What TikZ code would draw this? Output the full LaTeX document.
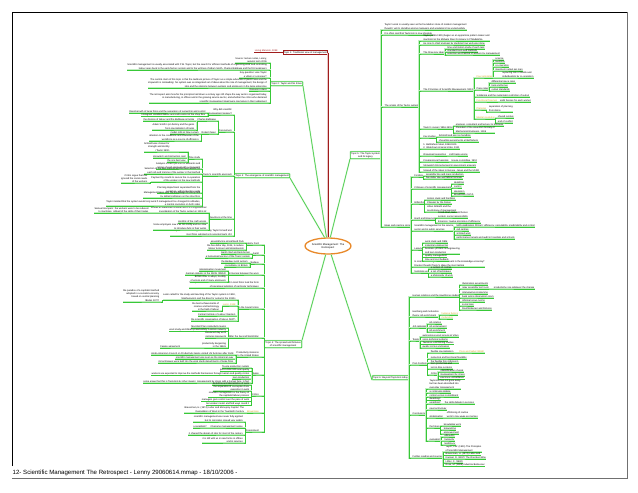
\documentclass[tikz,border=0pt]{standalone}
\usepackage{fontspec}
\setmainfont{Liberation Sans}
\usepackage{tikz}
\usetikzlibrary{shapes.geometric}
\definecolor{mapgreen}{HTML}{38C838}
\definecolor{mapred}{HTML}{A01C1C}
\definecolor{maporange}{HTML}{E8892A}
\definecolor{mapamber}{HTML}{D4A017}
\definecolor{framegrey}{HTML}{707070}
\newcommand\mapfont{\fontsize{2.4}{3.1}\selectfont}

\begin{document}
\begin{tikzpicture}[x=1pt,y=-1pt,
  tp/.style={font=\mapfont,inner sep=0.3pt},
  tr/.style={tp,anchor=south west,align=left},
  tl/.style={tp,anchor=south east,align=right},
  br/.style={draw=mapgreen,line width=0.5pt,preaction={draw=mapgreen!30,line width=1.4pt}},
  rl/.style={draw=mapred,line width=0.6pt,preaction={draw=mapred!25,line width=1.4pt}},
  topic/.style={tp,draw=mapgreen,line width=0.6pt,rounded corners=0.5pt,inner sep=0.9pt,align=center,fill=white,preaction={draw=mapgreen!30,line width=1.4pt}},
  hubnode/.style={ellipse,draw=maporange,line width=1.3pt,minimum width=42pt,minimum height=16pt,inner sep=0pt,align=center,font=\fontsize{2.6}{3.2}\selectfont}]
  \useasboundingbox (0,0) rectangle (638,493);
  \draw[black,line width=0.8pt] (12,466) -- (12,12) -- (627,12);
  \draw[framegrey,line width=0.8pt] (627,12) -- (627,478) -- (12,478);
  \node[anchor=base west,inner sep=0pt,font=\fontsize{6.1}{7}\selectfont] (foot) at (12.5,474) {12- Scientific Management The Retrospect - Lenny 29060614.mmap - 18/10/2006 -};

  % centre and main topics
  \node[hubnode] (hub) at (328,246) {Scientific Management: The\\Retrospect};
  \node[tp,draw=mapred,line width=0.6pt,inner sep=0.8pt,anchor=east] (t1) at (328,52.5) {Topic 1: Traditional view of management};
  \node[tl,text=mapred] (t1-1) at (278,52.5) {Living Marxism, 1998};
  \draw[rl] (t1.west) -- (t1-1.south east) -- (t1-1.south west);
  \draw[rl] (t1.east) -- (hub.north);
  \node[topic,anchor=south east] (t2) at (303,86) {Topic 2: Taylor and his times};
  \node[topic,anchor=south east] (t3) at (290,178) {Topic 3: The emergence of scientific management};
  \node[topic,anchor=south east] (t4) at (302,348) {Topic 4: The spread and fortunes\\of scientific management};
  \node[topic,anchor=south west] (t5) at (350,159) {Topic 5: The Taylor system\\and its legacy};
  \node[topic,anchor=south west] (t6) at (372,380) {Topic 6: Beyond Taylorism today};
  \draw[br] (t2.south east) -- (hub.100);
  \draw[br] (t3.south east) -- (hub.112);
  \draw[br] (hub.255) -- (t4.north east);
  \draw[br] (hub.75) -- (t5.south west);
  \draw[br] (hub.290) -- (t6.south west);

  % topic 5
  \foreach \dy/\lbl [count=\i] in {-129/{Taylor's work is usually seen as the foundation stone of modern management\\thought, yet its standing among managers and academics has varied widely},
      -124/{It is often said that Taylorism is now obsolete}, -52/{The origins of the Taylor system}, 68/{Ideas and practice since}}{
    \node[tr] (t5-\i) at ([shift={(3,\dy)}]t5.south east) {\lbl};
    \draw[br] (t5.south east) |- (t5-\i.south west) -- (t5-\i.south east);}
  \foreach \dy/\lbl [count=\i] in {-66/{Taylor (1856-1915) began as an apprentice pattern maker and\\machinist at the Midvale Steel Company in Philadelphia},
      -62/{He rose to chief engineer by studying how work was done}, -53/{The three key ideas},
      -16/{The Principles of Scientific Management (1911)}, 22/{Taylor's career (1856-1915)}, 31/{Key studies},
      42/{1. Bethlehem Steel, 1898-1901\\2. Watertown Arsenal strike, 1911}, 49/{Organised opposition}, 55/{Congressional hearings},
      60/{Stopwatch timing banned in government arsenals}, 65/{Spread of the ideas to Europe, Japan and the USSR}}{
    \node[tr] (t5-3-\i) at ([shift={(4,\dy)}]t5-3.south east) {\lbl};
    \draw[br] (t5-3.south east) |- (t5-3-\i.south west) -- (t5-3-\i.south east);}
  \foreach \dy/\lbl [count=\i] in {-5/{time and motion study of each task}, -2/{standard tools and methods}, 1/{selection and training of workers by management}}{
    \node[tr] (t5-3-3-\i) at ([shift={(2,\dy)}]t5-3-3.south east) {\lbl};
    \draw[br] (t5-3-3.south east) |- (t5-3-3-\i.south west) -- (t5-3-3-\i.south east);}
  \foreach \dy/\lbl [count=\i] in {-13/{\color{mapamber}Four principles}, -1/{Piece rates}, 6/{Soldiering and the systematic restriction of output},
      11/{\color{mapamber}Functional foremen}, 19/{\color{mapamber}Planning}, 28/{\color{mapamber}Mental revolution}}{
    \node[tr] (t5-3-4-\i) at ([shift={(2,\dy)}]t5-3-4.south east) {\lbl};
    \draw[br] (t5-3-4.south east) |- (t5-3-4-\i.south west) -- (t5-3-4-\i.south east);}
  \foreach \dy/\lbl [count=\i] in {-18/{science}, -15/{harmony}, -11/{co-operation}, -7/{maximum output per man}}{
    \node[tr] (t5-3-4-1-\i) at ([shift={(2,\dy)}]t5-3-4-1.south east) {\lbl};
    \draw[br] (t5-3-4-1.south east) |- (t5-3-4-1-\i.south west) -- (t5-3-4-1-\i.south east);}
  \node[tr] (t5-3-4-1-5) at ([shift={(9,0)}]t5-3-4-1.south east) {replacing rule of thumb and\\individualism by co-operation};
  \draw[br] (t5-3-4-1.south east) -- (t5-3-4-1-5.south west) -- (t5-3-4-1-5.south east);
  \foreach \p/\dy/\lbl in {2/-7/{differential piece rates}, 2/-3/{task and bonus}, 2/1/{output standards}, 4/0/{eight bosses for each worker},
      5/2/{separation of planning\\from doing}, 6/-1/{shared surplus}, 6/4/{end of conflict}}{
    \node[tr] (n) at ([shift={(2,\dy)}]t5-3-4-\p.south east) {\lbl};
    \draw[br] (t5-3-4-\p.south east) |- (n.south west) -- (n.south east);}
  \foreach \p/\dy/\lbl in {5/-3/{engineer, consultant and lecturer to business}, 5/4/{President of the American Society of\\Mechanical Engineers, 1906},
      6/-1/{Schmidt and pig iron handling}, 6/4/{shovelling experiments at Bethlehem}, 8/0/{craft trade unions}, 9/0/{House committee, 1912}}{
    \node[tr] (n) at ([shift={(2,\dy)}]t5-3-\p.south east) {\lbl};
    \draw[br] (t5-3-\p.south east) |- (n.south west) -- (n.south east);}
  \foreach \dy/\lbl [count=\i] in {-50/{Fordism}, -38/{Critiques of scientific management}, -23/{Gilbreths}, -7/{Gantt and Emerson},
      4/{Scientific management in the service\\sector and in public services}, 23/{Legacy},
      40/{Is scientific management still relevant in the knowledge economy?\\Drucker thought Taylor's ideas the most lasting}, 46/{Summing up}}{
    \node[tr] (t5-4-\i) at ([shift={(3,\dy)}]t5-4.south east) {\lbl};
    \draw[br] (t5-4.south east) |- (t5-4-\i.south west) -- (t5-4-\i.south east);}
  \foreach \p/\dy/\lbl in {1/-1/{assembly line and mass production}, 1/2/{five dollar day and labour turnover},
      2/-5/{deskilling}, 2/-1/{control}, 2/4/{alienation}, 2/7/{Braverman (1974)},
      3/-4/{motion study and therbligs}, 3/0/{Cheaper by the Dozen}, 3/8/{Lillian Gilbreth and the\\psychology of management},
      4/-2/{Gantt chart, task and bonus\\system, social responsibility}, 4/3/{Emerson: twelve principles of efficiency},
      5/-4/{McDonaldization (Ritzer): efficiency, calculability, predictability and control}, 5/0/{call centres}, 5/4/{scripted work},
      5/8/{performance targets and audit in hospitals and schools},
      6/-7/{work study and O\&M}, 6/-3/{industrial engineering}, 6/4/{business process re-engineering\\and lean production},
      6/7.5/{quality management}, 6/11/{time and cost budgets},
      8/-4/{a system of control}, 8/0/{a set of techniques}, 8/4/{a philosophy of work}}{
    \node[tr] (n) at ([shift={(2,\dy)}]t5-4-\p.south east) {\lbl};
    \draw[br] (t5-4-\p.south east) |- (n.south west) -- (n.south east);}

  % topic 6
  \foreach \dy/\lbl [count=\i] in {-83/{Human relations and the Hawthorne studies}, -63/{Herzberg and motivation\\theory, job enrichment},
      -52/{Job redesign}, -39/{Teams}, -15/{Post-Fordism}, 35/{Conclusions}, 78/{Further reading and sources}}{
    \node[tr] (t6-\i) at ([shift={(3,\dy)}]t6.south east) {\lbl};
    \draw[br] (t6.south east) |- (t6-\i.south west) -- (t6-\i.south east);}
  \foreach \dy/\lbl [count=\i] in {-12/{illumination experiments}, -8/{relay assembly test room}, -3/{interviewing programme},
      1/{bank wiring observation room}, 5/{informal group norms}, 9/{social man}, 13/{Roethlisberger and Dickson}}{
    \node[tr] (t6-1-\i) at ([shift={(2,\dy)}]t6-1.south east) {\lbl};
    \draw[br] (t6-1.south east) |- (t6-1-\i.south west) -- (t6-1-\i.south east);}
  \node[tr] (t6-1-2-1) at ([shift={(4,0)}]t6-1-2.south east) {productivity rose whatever the change};
  \draw[br] (t6-1-2.south east) -- (t6-1-2-1.south west) -- (t6-1-2-1.south east);
  \foreach \p/\dy/\lbl in {2/-2/{\color{mapamber}hygiene factors}, 2/2/{\color{mapamber}motivators},
      3/-4/{job rotation}, 3/0/{job enlargement}, 3/4/{job enrichment},
      4/-4/{autonomous work groups at Volvo}, 4/0/{socio-technical systems}, 4/3.5/{Tavistock coal mining studies}, 4/7/{quality circles and kaizen},
      7/-6/{Taylor, F.W. (1911) The Principles\\of Scientific Management}, 7/-2.5/{Braverman, H. (1974) Labor and},
      7/1/{Kanigel, R. (1997) The One Best Way}, 7/5/{Littler, C. (1982)}, 7/8.5/{Rose, M. (1988) Industrial Behaviour}}{
    \node[tr] (n) at ([shift={(2,\dy)}]t6-\p.south east) {\lbl};
    \draw[br] (t6-\p.south east) |- (n.south west) -- (n.south east);}
  \foreach \dy/\lbl [count=\i] in {-12/{flexible specialisation}, -6/{numerical and functional flexibility}, -2/{the flexible firm (Atkinson)},
      4/{lean production and\\just-in-time systems}, 10/{Critics}}{
    \node[tr] (t6-5-\i) at ([shift={(3,\dy)}]t6-5.south east) {\lbl};
    \draw[br] (t6-5.south east) |- (t6-5-\i.south west) -- (t6-5-\i.south east);}
  \node[tr] (t6-5-1-1) at ([shift={(5,0)}]t6-5-1.south east) {\color{mapamber}Piore and Sabel (1984)};
  \draw[br] (t6-5-1.south east) -- (t6-5-1-1.south west) -- (t6-5-1-1.south east);
  \foreach \dy/\lbl [count=\i] in {-3/{intensification of work}, 1/{management by stress}, 4.5/{electronic surveillance}}{
    \node[tr] (t6-5-5-\i) at ([shift={(2,\dy)}]t6-5-5.south east) {\lbl};
    \draw[br] (t6-5-5.south east) |- (t6-5-5-\i.south west) -- (t6-5-5-\i.south east);}
  \foreach \dy/\lbl [count=\i] in {-26/{Taylorism has not gone away\\but has been absorbed into\\everyday management}, -22/{a continuing debate},
      -18/{control versus commitment}, -14.5/{deskilling?}, -11/{upskilling?}, -5/{new technology}, 3/{globalisation},
      13/{the future}, 26/{evaluation}}{
    \node[tr] (t6-6-\i) at ([shift={(3,\dy)}]t6-6.south east) {\lbl};
    \draw[br] (t6-6.south east) |- (t6-6-\i.south west) -- (t6-6-\i.south east);}
  \foreach \p/\dy/\lbl in {5/0/{the skills debate in services}, 7/0/{offshoring of routine\\work to low-wage economies},
      8/-2/{knowledge work}, 8/2/{teleworking}, 8/6/{empowerment}, 9/-4/{efficiency}, 9/0/{humanity}, 9/4/{legitimacy}}{
    \node[tr] (n) at ([shift={(3,\dy)}]t6-6-\p.south east) {\lbl};
    \draw[br] (t6-6-\p.south east) |- (n.south west) -- (n.south east);}

  % topic 2
  \foreach \dy/\lbl [count=\i] in {-23/{Source: lecture notes, Lenny,\\autumn term 2006},
      -16/{Scientific management is usually associated with F.W. Taylor, but the search for efficient methods of organising work and controlling\\labour goes back to the early factory system and to the writings of Adam Smith, Charles Babbage and the first engineers},
      -8/{Key question: was Taylor\\a villain or a pioneer?},
      2/{The central claim of this topic is that the textbook picture of Taylor as a simple advocate of piece rates and the\\stopwatch is misleading: his system was an integrated set of ideas about the role of management, the design of\\jobs and the relations between workers and employers in the large enterprise},
      5/{Discuss in class},
      17/{The retrospect asks how far the principles laid down a century ago still shape the way work is organised today,\\in manufacturing, in offices and in the growing service sector, and whether the critics who declared\\scientific management dead were premature in their judgement}}{
    \node[tl] (t2-\i) at ([shift={(-3,\dy)}]t2.south west) {\lbl};
    \draw[br] (t2.south west) |- (t2-\i.south east) -- (t2-\i.south west);}

  % topic 3
  \foreach \dy/\lbl [count=\i] in {-63/{Why did scientific\\management appear?}, -46/{Forerunners}, -2/{Taylor's scientific approach},
      41/{Reactions at the time}, 58/{The system was never applied in full by Taylor himself and\\most firms adopted only selected parts of it}}{
    \node[tl] (t3-\i) at ([shift={(-2,\dy)}]t3.south west) {\lbl};
    \draw[br] (t3.south west) |- (t3-\i.south east) -- (t3-\i.south west);}
  \foreach \p/\dy/\lbl in {1/-2/{Rapid growth of large firms and the separation of ownership and control},
      1/1.5/{Immigrant unskilled labour and craft control of the shop floor},
      4/-6/{Strikes at Watertown Arsenal led to a Congressional\\investigation of the Taylor system in 1911-12},
      4/4/{Hostility of the craft unions}, 4/11/{Some employers saw it as too costly and too slow\\to introduce fully in their works}}{
    \node[tl] (n) at ([shift={(-2,\dy)}]t3-\p.south west) {\lbl};
    \draw[br] (t3-\p.south west) |- (n.south east) -- (n.south west);}
  \node[tl] (t3-4-1) at ([shift={(-60,-6)}]t3-4.south west) {Samuel Gompers: the workers were to be reduced\\to machines, robbed of the skills of their trades};
  \draw[br] (t3-4.south west) |- (t3-4-1.south east) -- (t3-4-1.south west);
  \foreach \dy/\lbl [count=\i] in {-11/{Charles Babbage}, 2/{Robert Owen}}{
    \node[tl] (t3-2-\i) at ([shift={(-2,\dy)}]t3-2.south west) {\lbl};
    \draw[br] (t3-2.south west) |- (t3-2-\i.south east) -- (t3-2-\i.south west);}
  \foreach \p/\dy/\lbl in {1/0/{the division of labour and the Babbage principle}, 1/9/{Adam Smith's pin factory and the gains\\from specialisation of tasks},
      2/0/{model mills at New Lanark}, 2/7/{attention to the conditions and character of the\\workforce as a source of efficiency}}{
    \node[tl] (n) at ([shift={(-2,\dy)}]t3-2-\p.south west) {\lbl};
    \draw[br] (t3-2-\p.south west) |- (n.south east) -- (n.south west);}
  \foreach \dy/\lbl [count=\i] in {-17/{Time study}, -7/{Analysis of each job into its elements and\\timing of each element with a stopwatch},
      -2/{Selection of the best method and the best worker for\\each job and training of the worker in that method},
      6/{Payment by results to secure the co-operation\\of the workers in the new methods},
      17/{Planning department separated from the\\workshop, with instruction cards},
      22/{Management takes over the knowledge formerly held\\by skilled craftsmen on the shop floor},
      30/{Taylor insisted that the system would only work if management too changed its attitudes,\\a mental revolution on both sides}}{
    \node[tl] (t3-3-\i) at ([shift={(-2,\dy)}]t3-3.south west) {\lbl};
    \draw[br] (t3-3.south west) |- (t3-3-\i.south east) -- (t3-3-\i.south west);}
  \foreach \dy/\lbl [count=\i] in {-1/{stopwatch and instruction card}, 3/{the one best way}}{
    \node[tl] (t3-3-1-\i) at ([shift={(-2,\dy)}]t3-3-1.south west) {\lbl};
    \draw[br] (t3-3-1.south west) |- (t3-3-1-\i.south east) -- (t3-3-1-\i.south west);}
  \node[tl] (t3-3-1-3) at ([shift={(-18,-7)}]t3-3-1.south west) {Schmidt was chosen for\\strength and docility\\(Taylor 1911)};
  \draw[br] (t3-3-1.south west) |- (t3-3-1-3.south east) -- (t3-3-1-3.south west);
  \node[tl] (t3-3-4-1) at ([shift={(-3,1)}]t3-3-4.south west) {Critics argue that this\\ignored the social needs\\of the workers};
  \draw[br] (t3-3-4.south west) |- (t3-3-4-1.south east) -- (t3-3-4-1.south west);

  % topic 4
  \foreach \dy/\lbl [count=\i] in {-103/{Henry Ford}, -93/{Gantt}, -84/{Bedaux}, -73/{In Europe between the wars},
      -60/{The spread was slow and uneven and in most firms took the form\\of piecemeal adoption of particular techniques},
      -39/{In the Soviet Union}, -10/{After the Second World War}, 9/{Productivity missions\\to the United States},
      27/{Japan}, 48/{Critics}, 65/{\color{mapamber}Braverman}, 84/{Assessment}}{
    \node[tl] (t4-\i) at ([shift={(-5,\dy)}]t4.south west) {\lbl};
    \draw[br] (t4.south west) |- (t4-\i.south east) -- (t4-\i.south west);}
  \foreach \p/\dy/\lbl in {1/-2/{assembly line at Highland Park}, 1/5/{the five dollar day, 1914, to reduce\\labour turnover and absenteeism},
      2/-1/{Gantt chart and task bonus}, 2/3/{a humanised version of the Taylor system},
      3/-1/{the Bedaux point system}, 3/3/{consultancy in Britain},
      4/-4/{rationalisation movement}, 4/0/{German industry in the 1920s (REFA)}, 4/7/{Britain slow to adopt, hostility\\of unions and of many employers},
      7/-10/{Marshall Plan productivity teams}, 7/-6.5/{work study and O\&M spread widely in British industry},
      7/0/{measured day work\\replaces piecework}, 7/10/{productivity bargaining\\in the 1960s},
      8/-2/{Anglo-American Council on Productivity teams visited US factories after 1948},
      8/2/{scientific management was seen as the American way}, 8/6/{its techniques were built into the work study departments of large firms},
      9/-7/{Toyota production system}, 9/-3.5/{just-in-time and total quality},
      9/0.5/{workers are expected to improve the methods themselves through kaizen and quality circles}, 9/4/{lean production},
      9/8/{some argue that this is Taylorism by other means: management by stress with a human face, in fact},
      10/-11/{deskilling and degradation of work}, 10/-5/{the separation of conception from\\execution in work},
      10/1.5/{scientific management is the theory of\\the capitalist labour process}, 10/5.5/{managers gain control over the pace of work},
      10/9.5/{but workers resist and find ways round it},
      11/0/{Braverman, H. (1974) Labor and Monopoly Capital: The\\Degradation of Work in the Twentieth Century},
      12/-10/{scientific management was never fully applied\\but its principles spread very widely}, 12/-4/{it became management sense},
      12/3/{it shaped the design of jobs for most of the century}, 12/11/{it is still with us in new forms in offices\\and in services}}{
    \node[tl] (n) at ([shift={(-2,\dy)}]t4-\p.south west) {\lbl};
    \draw[br] (t4-\p.south west) |- (n.south east) -- (n.south west);}
  \node[tl] (t4-12-2) at ([shift={(-38,-4)}]t4-12.south west) {a paradigm?};
  \draw[br] (t4-12.south west) |- (t4-12-2.south east) -- (t4-12-2.south west);
  \node[tl] (t4-7-4) at ([shift={(-48,10)}]t4-7.south west) {Fawley agreement};
  \draw[br] (t4-7.south west) |- (t4-7-4.south east) -- (t4-7-4.south west);
  \foreach \dy/\lbl [count=\i] in {-9/{Lenin called for the study and teaching of the Taylor system in 1918,\\Stakhanovism and the drive for output in the 1930s},
      -3/{\color{mapamber}Lenin, 1918}, 7/{Central Institute of Labour (Gastev)}, 12/{the scientific organisation of labour (NOT)}}{
    \node[tl] (t4-6-\i) at ([shift={(-2,\dy)}]t4-6.south west) {\lbl};
    \draw[br] (t4-6.south west) |- (t4-6-\i.south east) -- (t4-6-\i.south west);}
  \node[tl] (t4-6-1-1) at ([shift={(-3,2)}]t4-6-1.south west) {the paradox of a capitalist method\\adopted in a socialist economy\\based on central planning\\(Bailes 1977)};
  \draw[br] (t4-6-1.south west) |- (t4-6-1-1.south east) -- (t4-6-1-1.south west);
  \node[tl] (t4-6-2-1) at ([shift={(-3,5)}]t4-6-2.south west) {the best achievements of\\science and technology\\in the field of labour};
  \draw[br] (t4-6-2.south west) |- (t4-6-2-1.south east) -- (t4-6-2-1.south west);
\end{tikzpicture}
\end{document}
